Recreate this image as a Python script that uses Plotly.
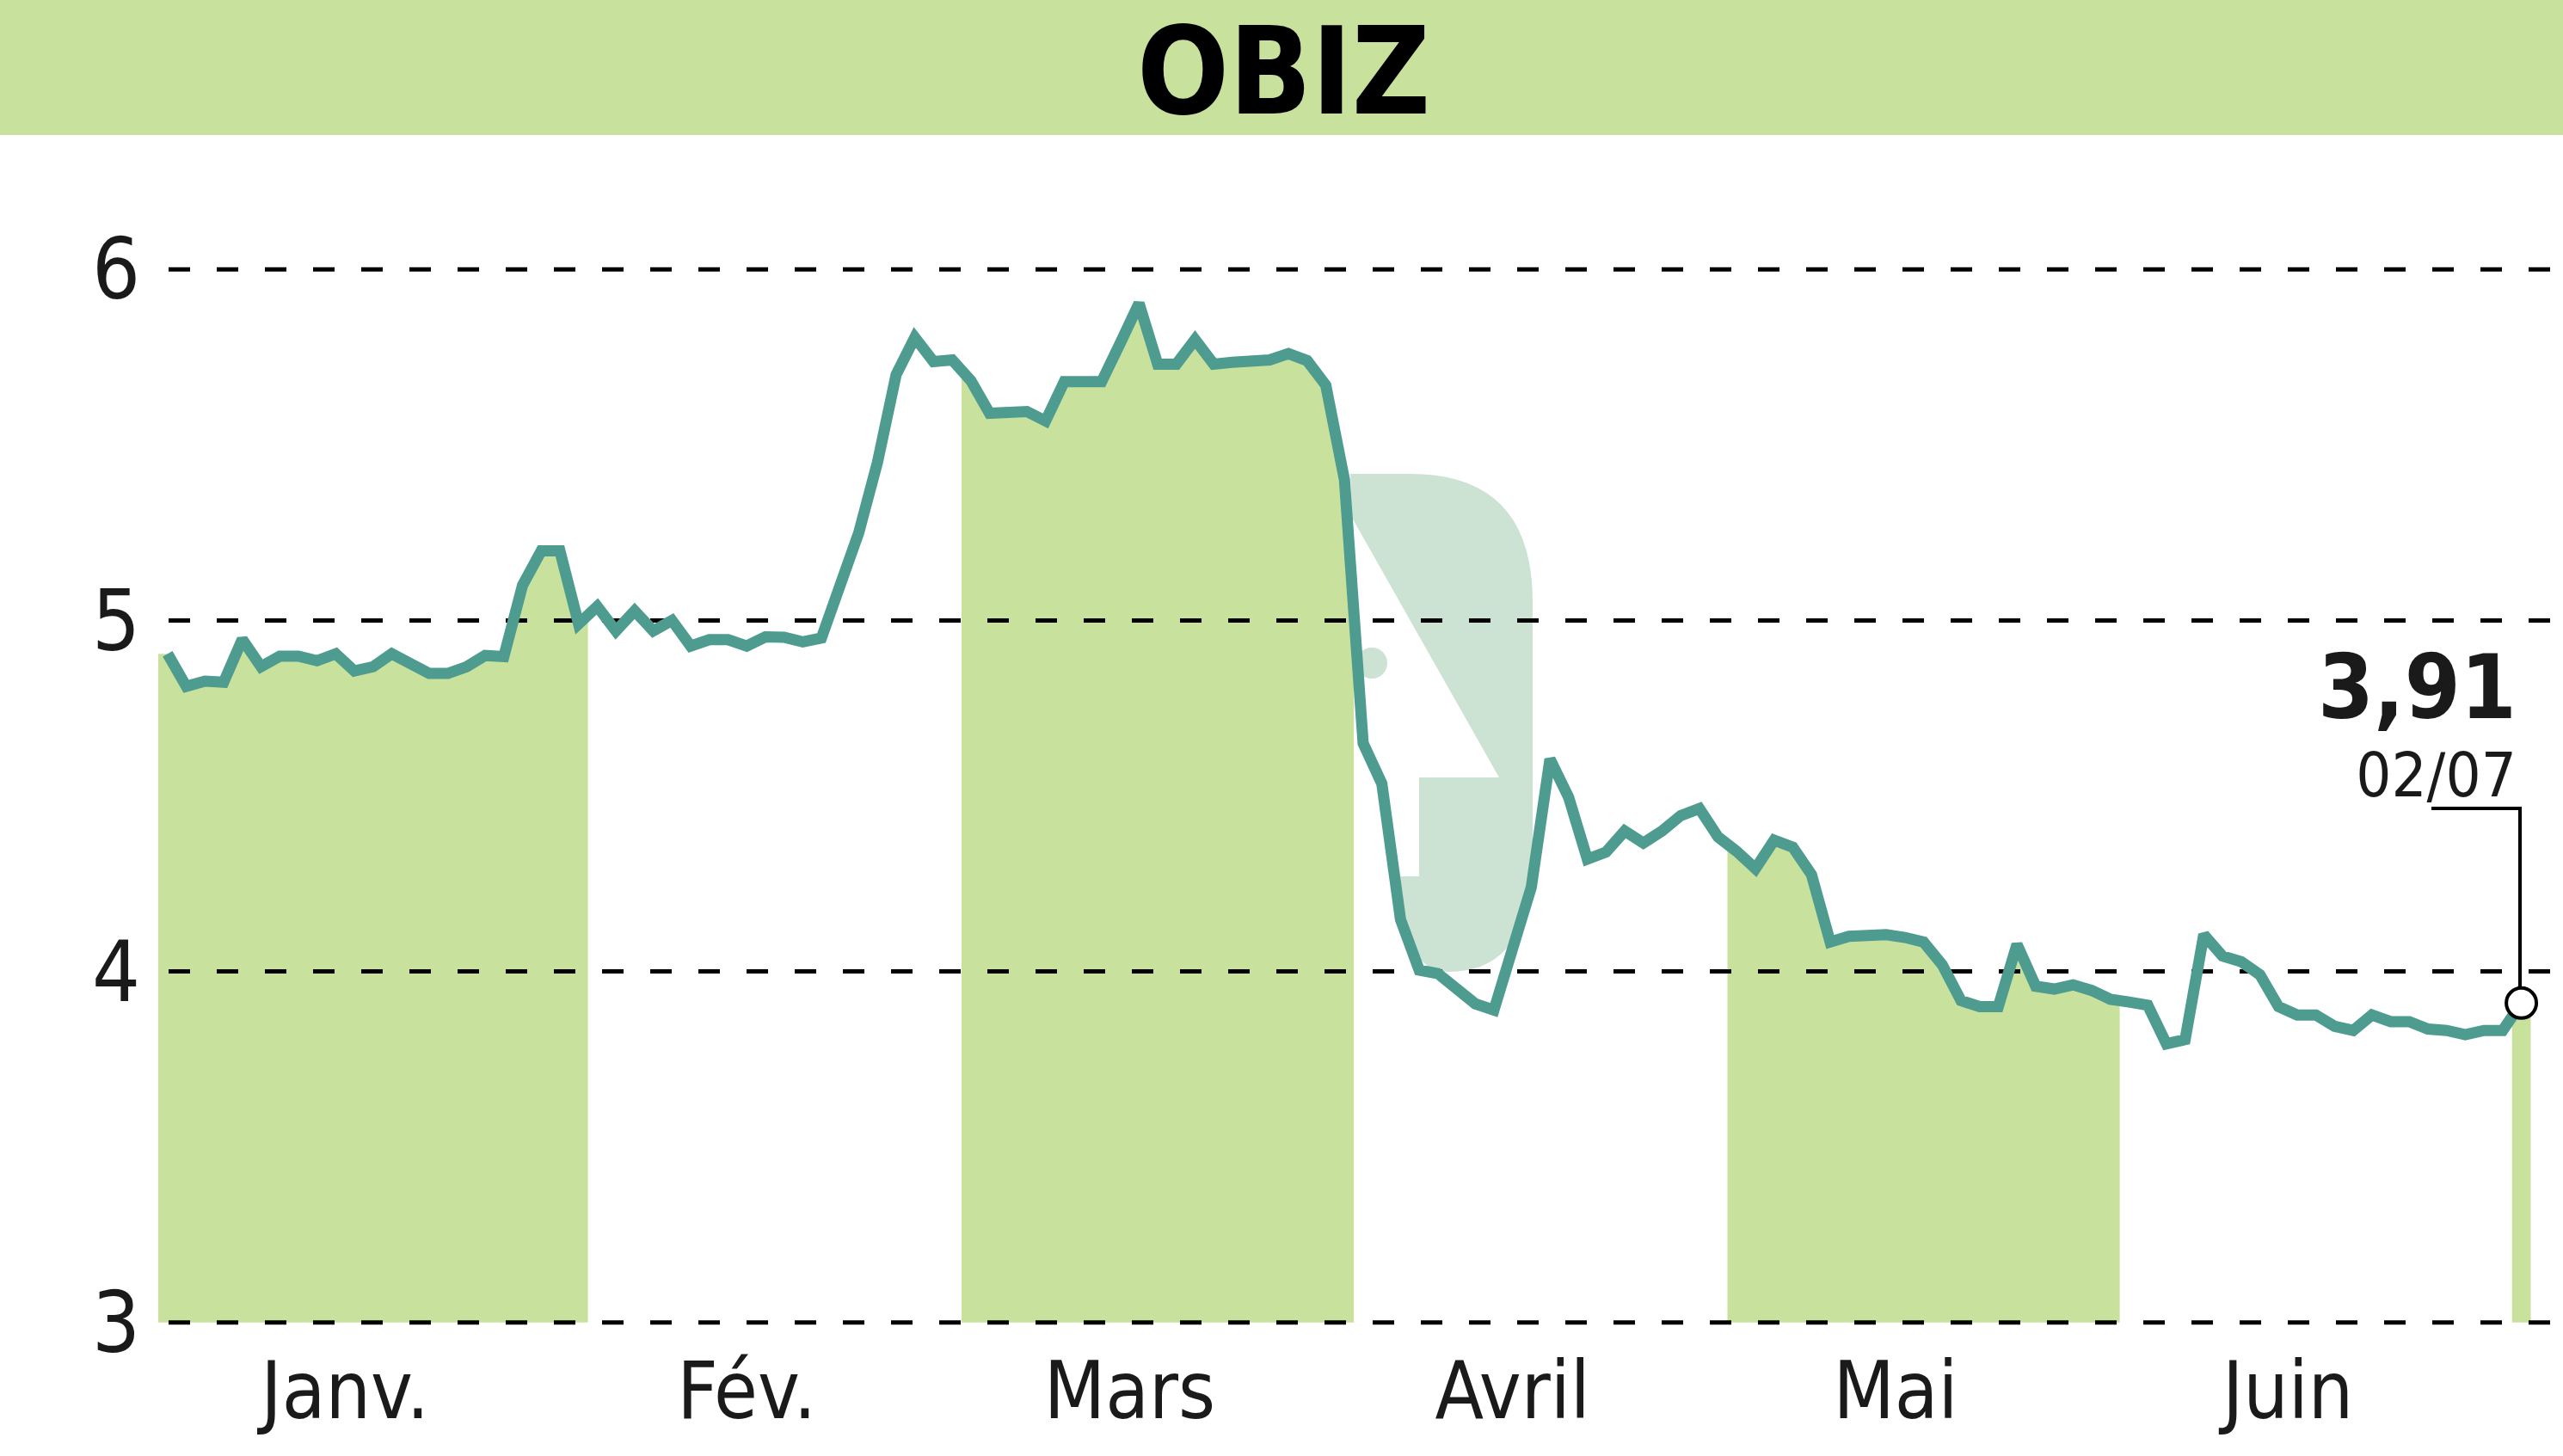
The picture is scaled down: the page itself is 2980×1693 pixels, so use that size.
import numpy as np
import plotly.graph_objects as go

# ---------------- data ----------------
TITLE = "OBIZ"
MONTH_LABELS = ["Janv.", "Fév.", "Mars", "Avril", "Mai", "Juin"]
SHADED = [True, False, True, False, True, False, True]  # Jan .. Jul
YTICKS = [3, 4, 5, 6]
LAST_VALUE_TEXT = "3,91"
LAST_DATE_TEXT = "02/07"

jan = [4.905, 4.812, 4.827, 4.824, 4.946, 4.868, 4.898, 4.898, 4.885, 4.905, 4.856, 4.868,
       4.905, 4.876, 4.849, 4.849, 4.868, 4.900, 4.897, 5.100, 5.198, 5.198, 4.990]
feb = [5.040, 4.970, 5.027, 4.970, 5.000, 4.927, 4.945, 4.945, 4.927, 4.953, 4.952, 4.939,
       4.950, 5.093, 5.250, 5.450, 5.700, 5.806, 5.737, 5.742]
mar = [5.683, 5.590, 5.590, 5.595, 5.568, 5.680, 5.680, 5.680, 5.790, 5.903, 5.730, 5.730,
       5.800, 5.730, 5.735, 5.735, 5.742, 5.760, 5.740, 5.670, 5.400]
apr = [4.650, 4.535, 4.148, 4.004, 3.994, 3.950, 3.908, 3.890, 4.056, 4.240, 4.605, 4.496,
       4.320, 4.340, 4.400, 4.366, 4.400, 4.444, 4.464, 4.383]
may = [4.342, 4.293, 4.374, 4.354, 4.276, 4.084, 4.100, 4.105, 4.105, 4.097, 4.084, 4.019,
       3.917, 3.900, 3.900, 4.077, 3.958, 3.950, 3.962, 3.946, 3.921]
jun = [3.913, 3.904, 3.794, 3.806, 4.105, 4.044, 4.028, 3.991, 3.900, 3.876, 3.876, 3.844,
       3.832, 3.876, 3.857, 3.857, 3.836, 3.832, 3.820, 3.832, 3.832]
jul = [3.910]

months = [jan, feb, mar, apr, may, jun, jul]

# ---------------- styling / layout constants ----------------
GREEN = "#C8E29E"
TEAL = "#4E9B8F"
WATERMARK = "#CCE2D3"
FONT = "Liberation Sans Narrow, DejaVu Sans Condensed, sans-serif"

W, H = 2980, 1693
ML, MR, MT, MB = 184, 0, 305, 147
PW, PH = W - ML - MR, H - MT - MB
STEP = 21.72  # px per trading day
X_LO = -0.5
X_HI = X_LO + PW / STEP
Y_LO, Y_HI = 2.98, 6.02


def px(x):
    return (x - ML) / PW


def py(y):
    return (H - MB - y) / PH


prices = [v for m in months for v in m]
counts = [len(m) for m in months]
idx = np.arange(len(prices))
starts = np.cumsum([0] + counts[:-1])

fig = go.Figure()

# monthly shaded areas under the curve
for k, (s, c) in enumerate(zip(starts, counts)):
    if not SHADED[k]:
        continue
    b0, b1 = s - 0.5, s + c - 0.5
    xs = [b0] + list(idx[s:s + c]) + [b1, b1, b0]
    ys = ([float(np.interp(b0, idx, prices))] + prices[s:s + c] +
          [float(np.interp(b1, idx, prices)), YTICKS[0], YTICKS[0]])
    fig.add_trace(go.Scatter(x=xs, y=ys, mode="none", fill="toself", fillcolor=GREEN,
                             hoverinfo="skip", showlegend=False))

# dashed horizontal grid lines (drawn above the shading)
grid_x0 = X_LO + 12 / STEP
gx, gy = [], []
for t in YTICKS:
    gx += [grid_x0, X_HI, None]
    gy += [t, t, None]
fig.add_trace(go.Scatter(x=gx, y=gy, mode="lines",
                         line=dict(color="black", width=5, dash="25px,31px"),
                         hoverinfo="skip", showlegend=False))

# price line
fig.add_trace(go.Scatter(x=idx, y=prices, mode="lines",
                         line=dict(color=TEAL, width=13),
                         hoverinfo="skip", showlegend=False))

# last point marker
fig.add_trace(go.Scatter(x=[idx[-1]], y=[prices[-1]], mode="markers",
                         marker=dict(size=35, color="white", line=dict(color="black", width=4)),
                         hoverinfo="skip", showlegend=False))

# month tick positions (slightly left of each month's centre)
tickpos = [s + c / 2 - 0.5 - 1.5 for s, c in zip(starts[:6], counts[:6])]

shapes = []
# top banner
shapes.append(dict(type="rect", xref="paper", yref="paper", x0=px(0), x1=px(W),
                   y0=py(157), y1=py(0), fillcolor=GREEN, line=dict(width=0), layer="below"))
# watermark logo (decoration)
wm = [("M", 1570, 551), ("L", 1640, 551), ("Q", 1782, 551), ("", 1782, 700), ("L", 1782, 990),
      ("Q", 1782, 1130), ("", 1685, 1130), ("Q", 1628, 1130), ("", 1628, 1019), ("L", 1650, 1019),
      ("L", 1650, 904), ("L", 1743, 904), ("L", 1572, 602)]
path = " ".join(f"{c} {px(a):.5f},{py(b):.5f}" if c else f"{px(a):.5f},{py(b):.5f}" for c, a, b in wm) + " Z"
shapes.append(dict(type="path", xref="paper", yref="paper", path=path,
                   fillcolor=WATERMARK, line=dict(width=0), layer="below"))
shapes.append(dict(type="circle", xref="paper", yref="paper", x0=px(1577), x1=px(1613),
                   y0=py(789), y1=py(753), fillcolor=WATERMARK, line=dict(width=0), layer="below"))
# leader line for the last value
lead = f"M {px(2827):.5f},{py(940):.5f} L {px(2930):.5f},{py(940):.5f} L {px(2930):.5f},{py(1147):.5f}"
shapes.append(dict(type="path", xref="paper", yref="paper", path=lead,
                   line=dict(color="black", width=4), layer="above"))

last_text = (f"<span style='font-size:104px'><b>{LAST_VALUE_TEXT}</b></span><br>"
             f"<span style='font-size:72px'>{LAST_DATE_TEXT}</span>")

annotations = [
    dict(text=f"<b>{TITLE}</b>", xref="paper", yref="paper", x=px(1492), y=py(84),
         xanchor="center", yanchor="middle", showarrow=False,
         font=dict(family=FONT, size=140, color="black")),
    dict(text=last_text, xref="paper", yref="paper", x=px(2928), y=py(945),
         xanchor="right", yanchor="bottom", align="right", showarrow=False,
         font=dict(family=FONT, size=70, color="#1a1a1a")),
]

fig.update_layout(
    width=W, height=H,
    margin=dict(l=ML, r=MR, t=MT, b=MB, pad=0),
    paper_bgcolor="white", plot_bgcolor="white",
    showlegend=False,
    shapes=shapes,
    annotations=annotations,
    font=dict(family=FONT, color="#1a1a1a"),
    xaxis=dict(range=[X_LO, X_HI], showgrid=False, zeroline=False, showline=False,
               tickmode="array", tickvals=tickpos, ticktext=MONTH_LABELS,
               ticks="", ticklabelstandoff=10, tickfont=dict(family=FONT, size=92, color="#1a1a1a"),
               fixedrange=True),
    yaxis=dict(range=[Y_LO, Y_HI], showgrid=False, zeroline=False, showline=False,
               tickmode="array", tickvals=YTICKS, ticktext=[str(t) for t in YTICKS],
               ticks="", ticklabelstandoff=20, tickfont=dict(family=FONT, size=98, color="#1a1a1a"),
               fixedrange=True),
)

fig.write_html("out.html", include_plotlyjs=True, full_html=True,
               config={"displayModeBar": False},
               post_script="document.body.style.margin='0';")
